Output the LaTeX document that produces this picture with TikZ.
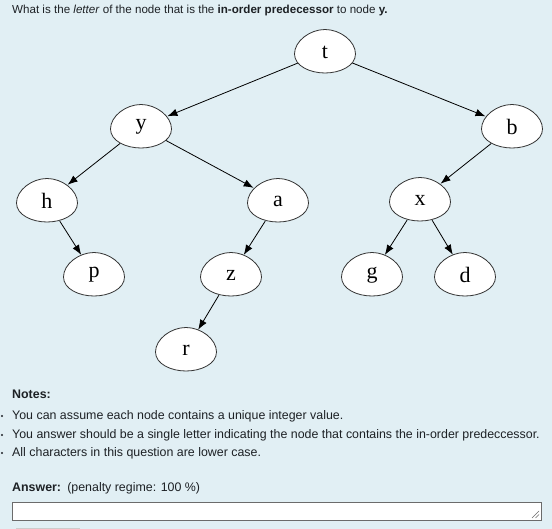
\documentclass[tikz,border=0pt]{standalone}
\usepackage{fontspec}
\setmainfont{Liberation Sans}
\newfontfamily\nodefont{Liberation Serif}
\usetikzlibrary{arrows.meta,shapes.geometric,calc}
\definecolor{bgc}{HTML}{E1EFF4}
\definecolor{boxborder}{HTML}{6B6B6B}
\definecolor{txt}{HTML}{1D2125}
\tikzset{
  anchorell/.style={ellipse, minimum width=60pt, minimum height=44pt, inner sep=0pt},
  eggtext/.style={font=\nodefont\fontsize{22}{22}\selectfont, inner sep=0pt},
  edge/.style={draw=black, line width=0.8pt, -{Latex[length=10pt,width=7.5pt]}},
  qtext/.style={font=\fontsize{11.6}{13}\selectfont, text=txt, anchor=west, inner sep=0pt},
  ntext/.style={font=\fontsize{12.4}{14}\selectfont, text=txt, anchor=west, inner sep=0pt}
}
\begin{document}
\begin{tikzpicture}[x=1pt,y=-1pt]
\fill[bgc] (0,0) rectangle (552,529);
\useasboundingbox (0,0) rectangle (552,529);
\node[qtext] (q) at (12,10.5) {What is the \textit{letter} of the node that is the \textbf{in-order predecessor} to node \textbf{y.}};
% node anchors
\node[anchorell] (t) at (325,52) {};
\node[anchorell] (y) at (141,127) {};
\node[anchorell] (b) at (512,127) {};
\node[anchorell] (h) at (47,201) {};
\node[anchorell] (a) at (278,201) {};
\node[anchorell] (x) at (420,200) {};
\node[anchorell] (p) at (94,275) {};
\node[anchorell] (z) at (231,275) {};
\node[anchorell] (g) at (372,275) {};
\node[anchorell] (d) at (465,275) {};
\node[anchorell] (r) at (186,350) {};
% edges
\draw[edge] (t) -- (y);
\draw[edge] (t) -- (b);
\draw[edge] (y) -- (h);
\draw[edge] (y) -- (a);
\draw[edge] (h) -- (p);
\draw[edge] (a) -- (z);
\draw[edge] (z) -- (r);
\draw[edge] (b) -- (x);
\draw[edge] (x) -- (g);
\draw[edge] (x) -- (d);
% egg shapes
\foreach \n/\l in {t/t,y/y,b/b,h/h,a/a,x/x,p/p,z/z,g/g,d/d,r/r}{
  \draw[draw=black!80, line width=0.8pt, fill=white]
    ($(\n.center)+(-30.5,2)$)
    .. controls +(0,-13) and +(-15,0) .. ($(\n.center)+(0,-22.5)$)
    .. controls +(15,0) and +(0,-13) .. ($(\n.center)+(30.5,2)$)
    .. controls +(0,12) and +(15,0) .. ($(\n.center)+(0,21)$)
    .. controls +(-15,0) and +(0,12) .. ($(\n.center)+(-30.5,2)$);
  \node[eggtext] at (\n.center) {\l};
}
% notes
\node[ntext, font=\fontsize{12.4}{14}\selectfont\bfseries] (notes) at (12,394) {Notes:};
\node[ntext] (n1) at (12,416.5) {You can assume each node contains a unique integer value.};
\node[ntext] (n2) at (12,435.5) {You answer should be a single letter indicating the node that contains the in-order predeccessor.};
\node[ntext] (n3) at (12,453.5) {All characters in this question are lower case.};
\foreach \yy in {416,435,453}{\fill[txt] (2,\yy) circle (1.1pt);}
\node[ntext] (ans) at (12,488) {\textbf{Answer:}\enspace(penalty regime: 100 \%)};
\draw[fill=white, draw=boxborder, line width=1.2pt] (12.5,502.5) rectangle (541.5,520.5);
\draw[boxborder, line width=0.6pt] (539,511) -- (532,518) (539,514.5) -- (535.5,518);
\draw[black!20, line width=1.5pt] (16,528.5) -- (80,528.5);
\end{tikzpicture}
\end{document}
